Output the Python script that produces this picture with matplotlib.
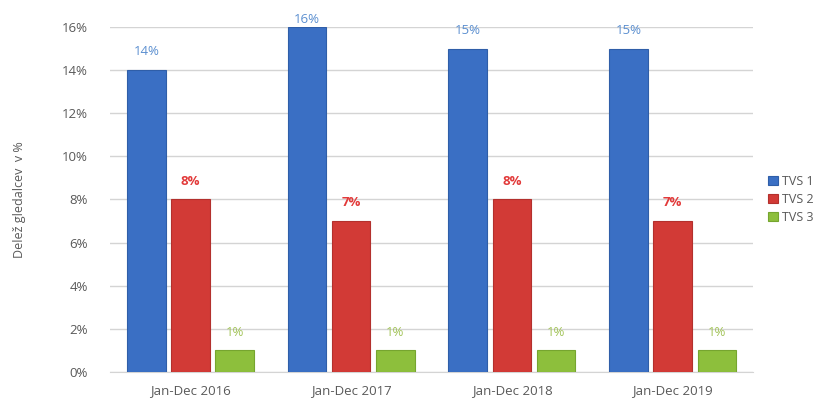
import numpy as np
import matplotlib.pyplot as plt
from matplotlib.ticker import PercentFormatter

# data
categories = ['Jan-Dec 2016', 'Jan-Dec 2017', 'Jan-Dec 2018', 'Jan-Dec 2019']
series_names = ['TVS 1', 'TVS 2', 'TVS 3']
tvs1 = [14, 16, 15, 15]
tvs2 = [8, 7, 8, 7]
tvs3 = [1, 1, 1, 1]
y_label = 'Delež gledalcev  v %'

plt.rcParams['font.family'] = ['Open Sans', 'DejaVu Sans']

fig = plt.figure(figsize=(8.22, 4.03), dpi=100)
ax = fig.add_axes([0.134, 0.077, 0.782, 0.856])

x = np.arange(len(categories))
width = 0.24
offsets = [-0.275, 0, 0.275]
bar_colors = ['#3a6fc4', '#d23a36', '#8dbf3c']
edge_colors = ['#2f5ea8', '#b3302d', '#76a52f']
label_colors = ['#5b8fd0', '#e23a3a', '#a3c45a']
label_weights = ['normal', 'bold', 'normal']

for vals, off, name, fc, ec, lc, lw in zip([tvs1, tvs2, tvs3], offsets, series_names,
                                          bar_colors, edge_colors, label_colors, label_weights):
    bars = ax.bar(x + off, vals, width, color=fc, edgecolor=ec, linewidth=0.8,
                  label=name, zorder=3)
    for b, v in zip(bars, vals):
        # labels are kept inside the plot area, like the original
        ty = min(v + 0.55, 16.05)
        ax.text(b.get_x() + b.get_width() / 2, ty, f'{v}%', ha='center', va='bottom',
                color=lc, fontsize=9.5, fontweight=lw, zorder=4)

ax.set_xlim(-0.5, len(categories) - 0.5)
ax.set_ylim(0, 16)
ax.set_yticks(np.arange(0, 17, 2))
ax.yaxis.set_major_formatter(PercentFormatter(decimals=0))
ax.set_xticks(x)
ax.set_xticklabels(categories)
ax.grid(axis='y', color='#d4d4d4', linewidth=1, zorder=0)
for s in ax.spines.values():
    s.set_visible(False)
ax.spines['bottom'].set_visible(True)
ax.spines['bottom'].set_color('#d4d4d4')
ax.tick_params(length=0, colors='#595959', labelsize=9.5)
ax.tick_params(axis='x', pad=9)
ax.tick_params(axis='y', pad=16)
ax.set_ylabel(y_label, color='#595959', fontsize=9, labelpad=26)

ax.legend(loc='center left', bbox_to_anchor=(1.0, 0.5), frameon=False, fontsize=9,
          handlelength=0.8, handleheight=0.8, handletextpad=0.3, labelspacing=0.4,
          labelcolor='#595959', borderaxespad=0.8)

fig.savefig('out.png', dpi=100)
